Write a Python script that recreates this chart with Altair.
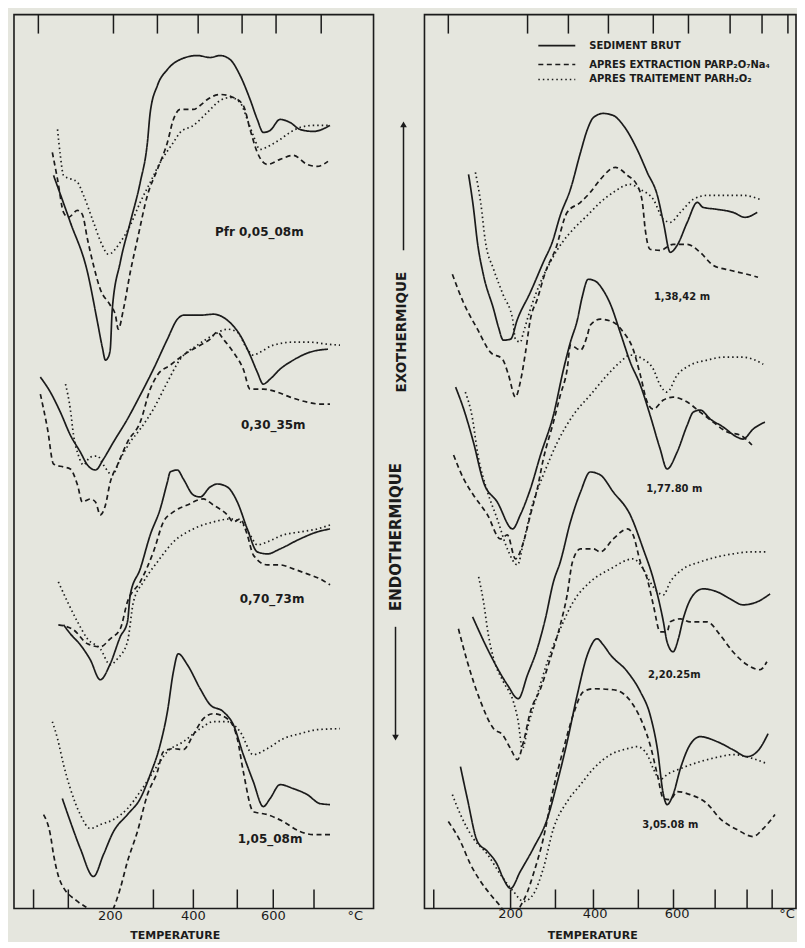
import altair as alt
import pandas as pd

FONT = "DejaVu Sans"
INK = "#1b1b1b"
BG = "#e5e6de"
H = 895

SERIES = ["SEDIMENT BRUT", "APRES EXTRACTION PARP₂O₇Na₄", "APRES TRAITEMENT PARH₂O₂"]
DASHES = [[1, 0], [5, 3.5], [1.5, 3]]

# ---------------- left panel (temperature °C, deflection) ----------------
L1_SOLID_T = [44,86,129,154,166,174,181,186,191,211,236,261,279,286,304,329,361,404,436,461,486,511,536,554,569,586,611,636,661,694,736]
L1_SOLID_V = [734,687,637,587,562,549,552,560,600,647,687,727,767,797,824,840,850,854,852,854,850,834,810,790,777,779,790,787,780,778,784]
L1_DASH_T = [41,54,69,81,104,116,129,144,161,186,199,206,219,236,254,279,304,329,344,361,394,411,429,461,494,519,536,554,579,611,644,679,704,731]
L1_DASH_V = [757,730,697,692,699,695,670,644,620,604,594,580,600,637,670,714,740,767,790,800,800,804,810,815,812,804,780,757,745,750,754,745,743,748]
L1_DOT_T = [54,61,69,104,119,144,166,181,211,236,261,286,311,344,361,394,429,461,486,511,529,544,561,586,611,636,661,694,736]
L1_DOT_V = [780,754,734,727,714,687,664,655,667,684,707,727,747,767,777,784,797,809,812,807,790,774,760,764,770,777,782,784,784]

L2_SOLID_T = [11,36,61,86,111,129,149,169,194,229,261,294,329,354,369,411,444,479,511,536,554,569,586,611,644,686,731]
L2_SOLID_V = [532,517,497,474,457,444,439,450,467,490,514,540,570,590,594,594,595,589,574,554,537,525,530,540,549,557,560]
L2_DASH_T = [11,29,44,69,86,104,116,136,149,161,174,186,204,229,261,286,304,336,369,411,436,454,469,494,519,536,569,604,636,679,711,736]
L2_DASH_V = [515,480,445,442,440,424,407,410,407,394,404,427,444,467,487,520,534,544,554,564,570,577,570,557,540,520,520,517,512,507,505,505]
L2_DOT_T = [74,86,94,106,119,136,154,169,191,211,236,261,294,329,361,404,444,479,504,529,544,561,594,644,686,729,761]
L2_DOT_V = [525,500,474,454,444,452,453,444,434,450,467,480,500,527,550,564,574,580,577,560,554,557,564,567,567,565,564]

L3_SOLID_T = [69,86,111,136,161,186,211,229,236,261,286,311,329,336,354,369,394,411,436,454,479,504,529,554,579,611,661,704,736]
L3_SOLID_V = [284,275,264,249,229,245,272,287,314,340,374,400,427,437,439,430,414,412,422,425,422,407,380,357,355,360,370,377,380]
L3_DASH_T = [56,94,129,161,186,211,229,261,294,319,344,379,419,444,479,494,511,529,544,579,611,644,679,711,736]
L3_DASH_V = [284,279,265,262,270,280,307,327,357,387,397,404,410,404,394,387,390,374,354,344,344,340,335,330,324]
L3_DOT_T = [56,79,104,129,161,186,204,229,244,269,304,344,394,444,486,511,536,554,579,619,661,704,736]
L3_DOT_V = [327,307,287,270,260,244,250,267,307,327,347,367,380,387,390,387,374,364,367,374,377,380,384]

L4_SOLID_T = [66,86,111,144,169,194,229,261,286,311,329,344,356,379,411,436,469,494,519,544,569,586,611,644,679,711,736]
L4_SOLID_V = [110,87,60,32,54,77,94,110,134,164,197,237,255,244,220,204,197,184,154,127,102,110,124,120,114,105,104]
L4_DASH_T = [19,36,44,61,104,129,161,194,211,229,254,279,304,319,344,369,394,419,444,479,504,519,544,579,619,661,694,741]
L4_DASH_V = [94,74,54,27,7,0,-18,0,20,47,77,114,137,157,160,159,174,190,195,190,170,137,97,94,87,77,74,74]
L4_DOT_T = [41,54,69,86,111,136,161,194,229,261,294,329,369,411,444,479,511,544,579,619,661,704,761]
L4_DOT_V = [187,170,144,120,94,80,84,89,100,117,137,157,167,180,187,187,177,154,160,170,175,179,180]

# ---------------- right panel ----------------
R1_SOLID_T = [73,85,95,110,135,147,159,177,194,226,258,280,300,325,350,367,382,406,431,456,490,515,540,555,572,589,614,639,653,688,727,757,787]
R1_SOLID_V = [735,702,667,634,600,582,569,570,590,617,647,667,694,720,757,780,792,796,794,784,760,737,714,687,657,664,687,707,702,700,697,692,697]
R1_DASH_T = [33,60,95,127,157,172,189,201,214,226,243,263,288,317,350,374,399,436,466,490,503,510,522,547,579,614,646,678,720,762,789]
R1_DASH_V = [635,607,580,557,550,534,512,527,557,590,610,637,660,697,707,717,730,742,734,724,707,680,660,659,665,665,657,644,639,635,632]
R1_DOT_T = [90,103,115,135,159,182,189,201,209,226,251,275,305,332,367,399,431,473,498,530,555,572,597,629,663,713,752,794]
R1_DOT_V = [737,707,667,640,614,590,570,567,577,600,627,647,667,680,694,707,717,725,720,710,690,687,697,710,714,714,714,710]

R2_SOLID_T = [41,61,85,110,144,182,201,226,251,283,308,325,342,354,369,387,406,424,448,473,498,522,547,564,589,614,629,646,671,703,737,752,777,806]
R2_SOLID_V = [522,500,467,427,407,380,394,420,454,494,540,567,589,612,630,628,619,605,577,547,524,494,460,440,457,484,497,499,490,482,472,470,480,487]
R2_DASH_T = [36,61,85,120,152,169,189,209,226,243,258,283,300,317,325,350,367,374,399,431,456,480,498,515,530,555,579,614,646,678,713,745,774]
R2_DASH_V = [454,430,414,394,370,374,350,367,394,420,450,487,514,540,564,559,574,584,590,587,577,560,534,507,500,509,512,507,497,487,477,474,464]
R2_DOT_T = [65,83,95,120,144,169,194,209,233,258,293,332,374,416,448,473,505,530,547,564,589,621,663,703,752,802]
R2_DOT_V = [517,490,457,417,390,360,344,367,407,434,467,494,514,534,547,554,550,540,524,517,534,544,549,552,552,545]

R3_SOLID_T = [83,127,169,196,219,243,263,283,300,325,350,374,399,431,473,505,530,555,564,579,592,604,629,653,688,720,752,787,819]
R3_SOLID_V = [292,254,224,210,234,260,290,327,347,387,417,437,434,417,394,360,330,287,267,257,270,290,314,320,317,310,304,307,315]
R3_DASH_T = [48,70,103,135,157,177,194,209,226,251,275,300,317,330,350,382,399,431,466,480,498,515,530,547,564,572,597,621,663,695,727,762,794,811]
R3_DASH_V = [280,247,207,180,174,160,149,167,197,220,250,284,314,347,360,360,357,370,380,374,347,330,304,277,277,287,290,287,287,274,257,244,239,247]
R3_DOT_T = [98,110,122,135,159,184,196,206,221,243,268,300,332,374,424,480,505,522,540,555,572,604,646,688,727,769,811]
R3_DOT_V = [332,307,274,250,227,207,187,160,184,214,247,280,307,327,340,350,340,327,317,314,327,340,347,352,355,357,357]

R4_SOLID_T = [53,70,95,120,144,159,177,201,233,268,293,317,342,367,391,406,424,466,498,522,540,555,564,579,597,621,646,688,727,762,787,814]
R4_SOLID_V = [142,110,67,57,44,30,20,37,60,90,127,167,214,254,270,264,254,237,217,194,160,114,104,114,140,164,172,167,159,152,157,175]
R4_DASH_T = [23,53,78,103,127,152,177,201,219,233,258,283,308,332,357,382,431,456,480,505,522,540,555,572,589,621,663,695,737,777,802,831]
R4_DASH_V = [87,67,44,27,14,2,-13,2,17,34,70,120,160,194,217,220,219,215,204,184,164,134,110,109,117,114,105,90,79,72,80,94]
R4_DOT_T = [33,53,85,120,152,184,209,233,258,283,317,350,382,424,466,490,515,530,547,564,597,646,695,727,777,811]
R4_DOT_V = [114,94,70,54,34,17,7,14,40,80,107,124,140,154,160,162,154,140,129,134,140,147,152,154,150,145]

# sample labels
LEFT_NAMES = ["Pfr 0,05_08m", "0,30_35m", "0,70_73m", "1,05_08m"]
LEFT_NAME_T = [559, 594, 591, 586]
LEFT_NAME_V = [677, 484, 310, 70]
RIGHT_NAMES = ["1,38,42 m", "1,77.80 m", "2,20.25m", "3,05.08 m"]
RIGHT_NAME_T = [601, 582, 582, 572]
RIGHT_NAME_V = [612, 420, 234, 84]

# tick marks and tick labels (°C)
LEFT_TICKS_TOP = [6, 194, 304, 406, 516, 601, 714]
LEFT_TICKS_BOTTOM = [-6, 81, 294, 394, 504, 594, 696]
RIGHT_TICKS_TOP = [23, 219, 320, 419, 530, 617, 720, 799, 863]
RIGHT_TICKS_BOTTOM = [-13, 177, 288, 382, 493, 580, 683, 762, 824]
AXIS_TEXT = ["200", "400", "600", "°C"]
LEFT_AXIS_T = [186, 394, 594, 799]
RIGHT_AXIS_T = [177, 386, 589, 861]


def curves(entries):
    rows = []
    for sample, series, ts, vs in entries:
        for i, (t, v) in enumerate(zip(ts, vs)):
            rows.append({"sample": sample, "series": series,
                         "curve": f"{sample}|{series}", "i": i, "T": t, "V": v})
    return pd.DataFrame(rows)


LEFT_DF = curves([
    (LEFT_NAMES[0], SERIES[0], L1_SOLID_T, L1_SOLID_V),
    (LEFT_NAMES[0], SERIES[1], L1_DASH_T, L1_DASH_V),
    (LEFT_NAMES[0], SERIES[2], L1_DOT_T, L1_DOT_V),
    (LEFT_NAMES[1], SERIES[0], L2_SOLID_T, L2_SOLID_V),
    (LEFT_NAMES[1], SERIES[1], L2_DASH_T, L2_DASH_V),
    (LEFT_NAMES[1], SERIES[2], L2_DOT_T, L2_DOT_V),
    (LEFT_NAMES[2], SERIES[0], L3_SOLID_T, L3_SOLID_V),
    (LEFT_NAMES[2], SERIES[1], L3_DASH_T, L3_DASH_V),
    (LEFT_NAMES[2], SERIES[2], L3_DOT_T, L3_DOT_V),
    (LEFT_NAMES[3], SERIES[0], L4_SOLID_T, L4_SOLID_V),
    (LEFT_NAMES[3], SERIES[1], L4_DASH_T, L4_DASH_V),
    (LEFT_NAMES[3], SERIES[2], L4_DOT_T, L4_DOT_V),
])
RIGHT_DF = curves([
    (RIGHT_NAMES[0], SERIES[0], R1_SOLID_T, R1_SOLID_V),
    (RIGHT_NAMES[0], SERIES[1], R1_DASH_T, R1_DASH_V),
    (RIGHT_NAMES[0], SERIES[2], R1_DOT_T, R1_DOT_V),
    (RIGHT_NAMES[1], SERIES[0], R2_SOLID_T, R2_SOLID_V),
    (RIGHT_NAMES[1], SERIES[1], R2_DASH_T, R2_DASH_V),
    (RIGHT_NAMES[1], SERIES[2], R2_DOT_T, R2_DOT_V),
    (RIGHT_NAMES[2], SERIES[0], R3_SOLID_T, R3_SOLID_V),
    (RIGHT_NAMES[2], SERIES[1], R3_DASH_T, R3_DASH_V),
    (RIGHT_NAMES[2], SERIES[2], R3_DOT_T, R3_DOT_V),
    (RIGHT_NAMES[3], SERIES[0], R4_SOLID_T, R4_SOLID_V),
    (RIGHT_NAMES[3], SERIES[1], R4_DASH_T, R4_DASH_V),
    (RIGHT_NAMES[3], SERIES[2], R4_DOT_T, R4_DOT_V),
])


def panel(df, names, name_t, name_v, name_size, ticks_top, ticks_bottom,
          axis_t, axis_y, xdom, width, title_x, extra=None):
    xs = alt.Scale(domain=xdom, nice=False, zero=False)
    ys = alt.Scale(domain=[0, H], nice=False, zero=False)
    X = alt.X("T:Q", scale=xs, axis=alt.Axis(
        labels=False, ticks=False, domain=False, grid=False,
        title="TEMPERATURE", titleX=title_x, titleY=21, titleAlign="center",
        titleBaseline="top", titleFont=FONT, titleFontSize=11,
        titleFontWeight="bold", titleColor=INK))
    Y = alt.Y("V:Q", scale=ys, axis=None)

    lines = alt.Chart(df).mark_line(
        clip=True, interpolate="monotone", color=INK, strokeWidth=1.7
    ).encode(
        x=X, y=Y,
        strokeDash=alt.StrokeDash("series:N", scale=alt.Scale(domain=SERIES, range=DASHES), legend=None),
        detail="curve:N", order="i:Q",
    )
    labels = alt.Chart(pd.DataFrame({"T": name_t, "V": name_v, "name": names})).mark_text(
        font=FONT, fontSize=name_size, fontWeight="bold", color=INK, align="center", baseline="middle"
    ).encode(x=X, y=Y, text="name:N")
    top = alt.Chart(pd.DataFrame({"T": ticks_top})).mark_rule(color=INK, strokeWidth=1.5).encode(
        x=X, y=alt.value(0), y2=alt.value(19))
    bottom = alt.Chart(pd.DataFrame({"T": ticks_bottom})).mark_rule(color=INK, strokeWidth=1.5).encode(
        x=X, y=alt.value(H - 19), y2=alt.value(H))
    axis_lbl = alt.Chart(pd.DataFrame({"T": axis_t, "txt": AXIS_TEXT})).mark_text(
        font=FONT, fontSize=13, color=INK, align="center", baseline="middle"
    ).encode(x=X, y=alt.value(axis_y), text="txt:N")
    layers = [lines, labels, top, bottom, axis_lbl] + (extra or [])
    return alt.layer(*layers).properties(width=width, height=H)


# legend and EXO/ENDO annotations (drawn in the right panel)
legend_rows_y = [31, 50, 65]
extra = []
for k, name in enumerate(SERIES):
    extra.append(alt.Chart(pd.DataFrame({"s": [name]})).mark_rule(
        color=INK, strokeWidth=1.7, strokeDash=DASHES[k]
    ).encode(x=alt.value(114), x2=alt.value(151), y=alt.value(legend_rows_y[k])))
    extra.append(alt.Chart(pd.DataFrame({"s": [name]})).mark_text(
        font=FONT, fontSize=10, fontWeight="bold", color=INK, align="left", baseline="middle"
    ).encode(x=alt.value(165), y=alt.value(legend_rows_y[k]), text="s:N"))

one = pd.DataFrame({"a": [0]})
extra += [
    alt.Chart(one).mark_rule(color=INK, strokeWidth=1.5).encode(
        x=alt.value(-21), y=alt.value(236), y2=alt.value(110)),
    alt.Chart(one).mark_point(shape="triangle-up", filled=True, color=INK, size=45, opacity=1).encode(
        x=alt.value(-21), y=alt.value(110)),
    alt.Chart(one).mark_text(text="EXOTHERMIQUE", font=FONT, fontSize=13.5, fontWeight="bold",
                             color=INK, angle=270, align="center", baseline="middle").encode(
        x=alt.value(-22), y=alt.value(318)),
    alt.Chart(one).mark_text(text="ENDOTHERMIQUE", font=FONT, fontSize=15, fontWeight="bold",
                             color=INK, angle=270, align="center", baseline="middle").encode(
        x=alt.value(-29), y=alt.value(523)),
    alt.Chart(one).mark_rule(color=INK, strokeWidth=1.5).encode(
        x=alt.value(-29), y=alt.value(613), y2=alt.value(724)),
    alt.Chart(one).mark_point(shape="triangle-down", filled=True, color=INK, size=45, opacity=1).encode(
        x=alt.value(-29), y=alt.value(724)),
]

left = panel(LEFT_DF, LEFT_NAMES, LEFT_NAME_T, LEFT_NAME_V, 12,
             LEFT_TICKS_TOP, LEFT_TICKS_BOTTOM, LEFT_AXIS_T, 903,
             [-55, 845], 360, 161)
right = panel(RIGHT_DF, RIGHT_NAMES, RIGHT_NAME_T, RIGHT_NAME_V, 10,
              RIGHT_TICKS_TOP, RIGHT_TICKS_BOTTOM, RIGHT_AXIS_T, 901,
              [-36, 883], 372, 168, extra)

chart = alt.hconcat(left, right, spacing=51, bounds="flush").properties(
    padding={"left": 5, "top": 4, "right": 0, "bottom": 0},
    background=BG,
).configure_view(stroke=INK, strokeWidth=1.6)

chart.save("out.html", embed_options={"renderer": "svg", "actions": False})
